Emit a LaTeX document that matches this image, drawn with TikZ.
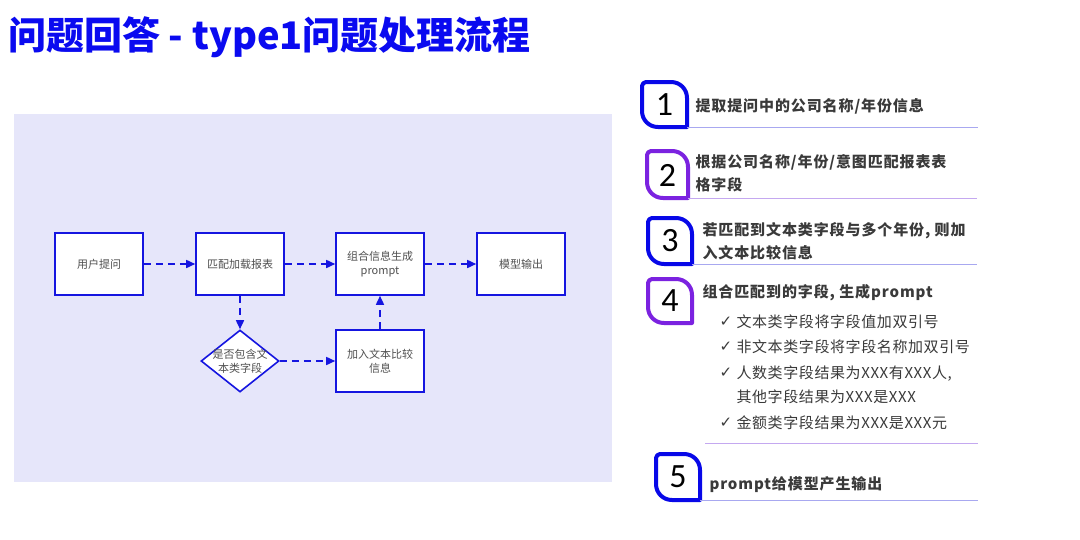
\documentclass[tikz,border=0pt]{standalone}
\usepackage{fontspec}
\setmainfont{Noto Sans CJK SC}
\newfontfamily\headfont[LetterSpace=6]{Noto Sans CJK SC}
\newfontfamily\itemfont[LetterSpace=4]{Noto Sans CJK SC}
\newfontfamily\symfont{DejaVu Sans}
\newfontfamily\digitfont{Carlito}
\usetikzlibrary{shapes.geometric,arrows.meta}
\definecolor{titleblue}{HTML}{0A0AF0}
\definecolor{flowblue}{HTML}{1515E0}
\definecolor{panel}{HTML}{E6E6FA}
\definecolor{badgeblue}{HTML}{0808E8}
\definecolor{badgepurple}{HTML}{7B22E0}
\definecolor{ulblue}{HTML}{A8A8F0}
\definecolor{ulpurple}{HTML}{C4A8F0}
\definecolor{txtdark}{HTML}{3A3A3A}
\definecolor{boxtxt}{HTML}{505050}
\tikzset{
  flowbox/.style={draw=flowblue, fill=white, line width=1.6pt, minimum width=88pt, minimum height=62pt, inner sep=2pt, align=center, font=\fontsize{11}{14}\selectfont, text=boxtxt},
  flowarrow/.style={draw=flowblue, line width=1.6pt, dash pattern=on 7pt off 5pt, -{Triangle[length=9pt,width=8pt]}},
  headtext/.style={anchor=west, align=left, text=txtdark, font=\headfont\bfseries\fontsize{15}{23}\selectfont},
  itemtext/.style={anchor=west, align=left, text=txtdark, font=\itemfont\fontsize{15}{24}\selectfont},
  checkmark/.style={text=txtdark, font=\symfont\fontsize{15}{16}\selectfont},
  digit/.style={text=black, font=\digitfont\fontsize{34}{34}\selectfont},
  underl/.style={line width=1pt}
}
% badge: #1 left, #2 top, #3 right, #4 bottom, #5 colour (y grows downwards)
\newcommand\badge[5]{%
  \draw[line width=4pt, #5, line join=round]
    (#3,#4) -- ({#1+16},#4)
      .. controls ({#1+7},#4) and (#1,{#4-7}) .. (#1,{#4-16})
    -- (#1,{#2+4})
      .. controls (#1,{#2+2}) and ({#1+2},#2) .. ({#1+4},#2)
    -- ({#3-16},#2)
      .. controls ({#3-7},#2) and (#3,{#2+7}) .. (#3,{#2+16})
    -- cycle;
}
\begin{document}
\begin{tikzpicture}[x=1pt,y=-1pt]
\useasboundingbox[fill=white] (0,0) rectangle (1080,539);
% title
\node[anchor=west, text=titleblue, font=\bfseries\fontsize{38}{42}\selectfont, inner sep=0] (title) at (8,37) {问题回答 - type1问题处理流程};
% panel
\fill[panel] (14,114) rectangle (612,482);
% flowchart
\node[flowbox] (u) at (99,264) {用户提问};
\node[flowbox] (m) at (240,264) {匹配加载报表};
\node[flowbox] (c) at (380,264) {组合信息生成\\prompt};
\node[flowbox] (o) at (521,264) {模型输出};
\node[diamond, draw=flowblue, fill=white, line width=1.6pt, minimum width=78pt, minimum height=62pt, inner sep=0] (d) at (240,361) {};
\node[align=center, text=boxtxt, font=\fontsize{11}{14}\selectfont] (dt) at (d.center) {是否包含文\\本类字段};
\node[flowbox] (a) at (380,361) {加入文本比较\\信息};
\draw[flowarrow] (u.east) -- (m.west);
\draw[flowarrow] (m.east) -- (c.west);
\draw[flowarrow] (c.east) -- (o.west);
\draw[flowarrow] (m.south) -- (d.north);
\draw[flowarrow] (d.east) -- (a.west);
\draw[flowarrow] (a.north) -- (c.south);
% right side list
\badge{642}{82}{687}{127}{badgeblue}
\node[digit] (n1) at (664.5,105) {1};
\draw[underl, ulblue] (687,127) -- (978,127);
\node[headtext] (h1) at (692,106) {提取提问中的公司名称/年份信息};

\badge{647}{151}{688}{198}{badgepurple}
\node[digit] (n2) at (667.5,175) {2};
\draw[underl, ulpurple] (688,198) -- (977,198);
\node[headtext] (h2) at (692,173.5) {根据公司名称/年份/意图匹配报表表\\格字段};

\badge{648}{218}{692}{264}{badgeblue}
\node[digit] (n3) at (670,241) {3};
\draw[underl, ulblue] (692,264) -- (977,264);
\node[headtext] (h3) at (699,241) {若匹配到文本类字段与多个年份, 则加\\入文本比较信息};

\badge{648}{279}{692}{323}{badgepurple}
\node[digit] (n4) at (670,301) {4};
\node[headtext] (h4) at (699,293) {组合匹配到的字段, 生成prompt};

\node[checkmark] (k1) at (726,322) {✓};
\node[itemtext] (c1) at (733,322) {文本类字段将字段值加双引号};
\node[checkmark] (k2) at (726,347) {✓};
\node[itemtext] (c2) at (733,347) {非文本类字段将字段名称加双引号};
\node[checkmark] (k3) at (726,373) {✓};
\node[itemtext] (c3) at (733,385) {人数类字段结果为XXX有XXX人,\\其他字段结果为XXX是XXX};
\node[checkmark] (k4) at (726,423) {✓};
\node[itemtext] (c4) at (733,423) {金额类字段结果为XXX是XXX元};
\draw[underl, ulpurple] (705,443) -- (978,443);

\badge{656}{454}{700}{500}{badgeblue}
\node[digit] (n5) at (678,477) {5};
\draw[underl, ulblue] (700,500) -- (978,500);
\node[headtext] (h5) at (706,485) {prompt给模型产生输出};
\end{tikzpicture}
\end{document}
